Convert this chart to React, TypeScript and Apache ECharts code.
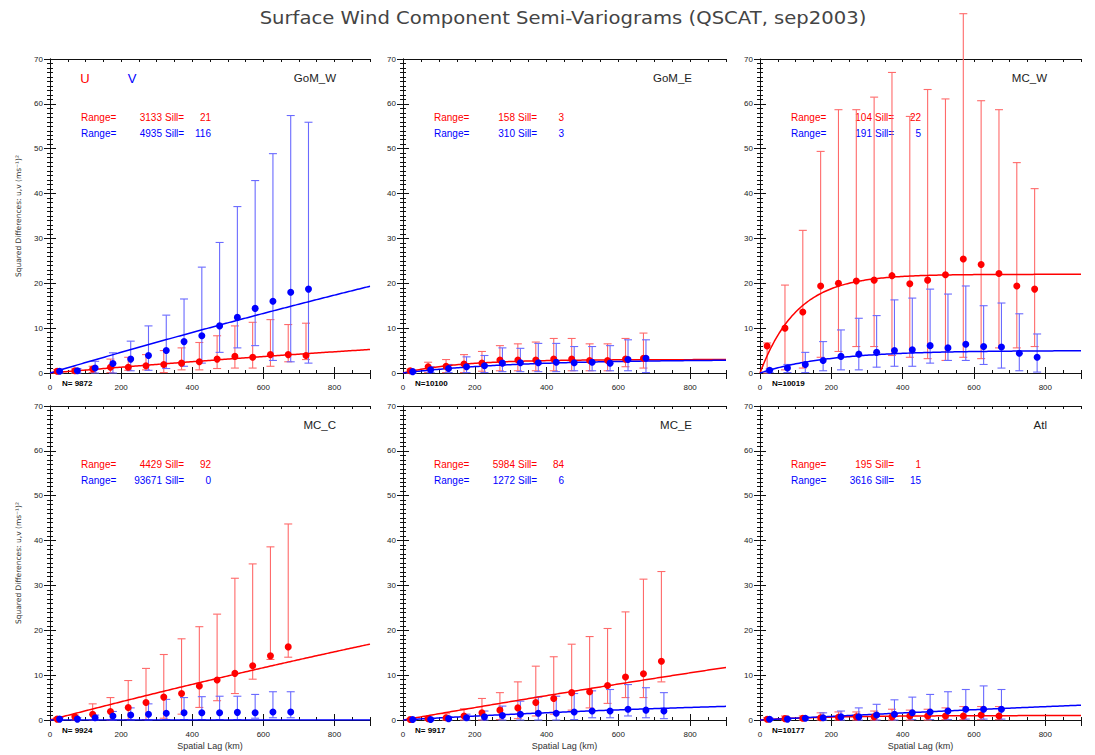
import { useEffect, useRef } from "react";
import * as echarts from "echarts";

// Lag bin centres (km); U and V are offset slightly so their bars do not overlap
const lagU = [20, 70, 120, 170, 220, 270, 320, 370, 420, 470, 520, 570, 620, 670, 720, 770];
const lagV = [27, 77, 127, 177, 227, 277, 327, 377, 427, 477, 527, 577, 627, 677, 727, 777];

const xTicks = [0, 200, 400, 600, 800];
const yTicks = [0, 10, 20, 30, 40, 50, 60, 70];

// GoM_W
const gomW_uMean = [0.4, 0.5, 0.9, 1.3, 1.3, 1.6, 1.9, 2.2, 2.5, 3.1, 3.7, 3.5, 4.1, 4.1, 3.9];
const gomW_uHigh = [0.8, 0.9, 1.5, 3.1, 3.5, 4.1, 5.0, 5.6, 6.8, 8.3, 10.5, 11.3, 11.9, 10.8, 11.1];
const gomW_uLow = [0, 0, 0.1, 0.1, 0.6, 0.7, 0.1, 0.7, 0.7, 1.0, 1.1, 1.1, 1.5, 2.5, 3.0];
const gomW_vMean = [0.4, 0.5, 1.1, 2.1, 3.1, 3.9, 5.0, 7.0, 8.3, 10.5, 12.4, 14.4, 16.0, 18.0, 18.7];
const gomW_vHigh = [0.8, 1.0, 2.6, 4.5, 7.1, 10.5, 12.9, 16.5, 23.6, 29.1, 37.1, 42.9, 48.9, 57.4, 55.9];
const gomW_vLow = [0, 0, 0, 0, 0.5, 0.6, 1.0, 1.5, 2.2, 4.6, 5.6, 6.1, 2.8, 2.5, 2.2];

// GoM_E
const gomE_uMean = [0.5, 1.4, 1.5, 2.0, 2.2, 2.9, 2.9, 2.9, 3.1, 3.1, 2.8, 2.8, 3.1, 3.3];
const gomE_uHigh = [0.9, 2.4, 3.0, 4.1, 4.8, 6.1, 6.5, 6.9, 7.7, 7.7, 6.5, 6.5, 7.7, 8.9];
const gomE_uLow = [0, 0.1, 0.1, 0.1, 0.4, 0.5, 0.5, 0.5, 0.5, 0.5, 0.5, 0.5, 1.4, 1.1];
const gomE_vMean = [0.3, 0.7, 1.0, 1.4, 1.6, 2.2, 2.3, 2.3, 2.4, 2.3, 2.4, 2.2, 3.0, 3.3];
const gomE_vHigh = [0.5, 1.4, 1.9, 3.6, 3.9, 5.6, 5.5, 6.6, 6.6, 5.9, 5.9, 6.1, 7.4, 7.4];
const gomE_vLow = [0, 0.1, 0.1, 0.1, 0.1, 0.3, 0.3, 0.3, 0.3, 0.5, 0.5, 0.5, 0.5, 0.1];

// MC_W
const mcW_uMean = [6.0, 10.0, 13.6, 19.4, 20.0, 20.5, 20.7, 21.7, 19.9, 20.7, 21.9, 25.4, 24.2, 22.2, 19.4, 18.7];
const mcW_uHigh = [6.7, 19.6, 31.8, 49.4, 58.7, 58.7, 61.5, 67.0, 57.2, 63.2, 61.1, 80.1, 60.7, 58.7, 46.9, 41.1];
const mcW_uLow = [0, 0.7, 1.1, 3.5, 4.8, 5.9, 5.9, 3.9, 3.5, 3.2, 2.8, 3.5, 3.2, 5.6, 5.6, 5.9];
const mcW_vMean = [0.6, 1.1, 1.9, 2.8, 3.7, 4.2, 4.6, 5.0, 5.2, 6.1, 5.6, 6.4, 5.9, 5.8, 4.4, 3.5];
const mcW_vHigh = [0.9, 1.9, 4.6, 7.0, 9.6, 12.2, 12.8, 16.3, 16.7, 18.7, 17.6, 19.4, 15.0, 15.6, 13.2, 8.7];
const mcW_vLow = [0.1, 0.1, 0.1, 0.5, 0.7, 0.7, 1.3, 1.5, 1.5, 2.2, 2.8, 2.8, 1.9, 1.1, 0.5, 0.2];

// MC_C
const mcC_uMean = [0.2, 0.7, 1.3, 1.9, 2.8, 3.9, 5.1, 5.9, 7.6, 8.9, 10.4, 12.1, 14.3, 16.3];
const mcC_uHigh = [0.5, 1.1, 3.6, 5.0, 8.8, 11.5, 14.6, 18.1, 20.8, 23.6, 31.6, 34.8, 38.6, 43.7];
const mcC_uLow = [0, 0, 0, 0, 0.1, 0.1, 0.4, 1.3, 2.8, 4.3, 5.9, 9.1, 13.5, 14.0];
const mcC_vMean = [0.2, 0.2, 0.5, 0.9, 1.1, 1.3, 1.5, 1.6, 1.6, 1.6, 1.7, 1.6, 1.8, 1.8];
const mcC_vHigh = [0.5, 0.5, 1.1, 1.9, 2.7, 3.6, 4.6, 5.0, 5.2, 5.3, 5.3, 5.7, 6.3, 6.3];
const mcC_vLow = [0, 0, 0, 0, 0, 0, 0.1, 0.1, 0.1, 0.1, 0.1, 0.4, 0.5, 0.5];

// MC_E
const mcE_uMean = [0.1, 0.3, 0.5, 0.9, 1.6, 2.2, 2.7, 3.9, 4.8, 6.1, 6.3, 7.7, 9.6, 10.3, 13.1];
const mcE_uHigh = [0.2, 0.5, 1.4, 2.5, 4.8, 6.1, 8.5, 12.0, 14.1, 16.9, 18.6, 20.4, 24.1, 31.4, 33.1];
const mcE_uLow = [0, 0, 0, 0, 0, 0.1, 0.3, 0.9, 1.3, 2.2, 2.7, 3.7, 5.0, 5.0, 8.5];
const mcE_vMean = [0.1, 0.1, 0.3, 0.5, 0.7, 1.0, 1.3, 1.5, 1.5, 1.8, 2.0, 2.0, 2.4, 2.2, 2.0];
const mcE_vHigh = [0.3, 0.3, 0.7, 1.3, 2.0, 3.1, 4.2, 5.1, 5.3, 5.9, 6.5, 6.8, 7.9, 7.2, 6.1];
const mcE_vLow = [0, 0, 0, 0, 0, 0, 0, 0, 0, 0.1, 0.5, 0.5, 0.9, 0.5, 0.3];

// Atl
const atl_uMean = [0.15, 0.3, 0.4, 0.5, 0.6, 0.7, 0.7, 0.7, 0.9, 0.9, 0.9, 0.9, 1.1, 0.9];
const atl_uHigh = [0.5, 0.9, 0.9, 1.6, 1.8, 1.8, 2.0, 2.4, 2.2, 2.4, 2.7, 3.0, 3.0, 3.0];
const atl_uLow = [0, 0, 0, 0, 0, 0, 0, 0, 0, 0, 0.1, 0.1, 0.1, 0.1];
const atl_vMean = [0.15, 0.2, 0.4, 0.5, 0.7, 0.7, 1.1, 1.3, 1.6, 1.8, 2.0, 2.4, 2.4, 2.4];
const atl_vHigh = [0.4, 0.5, 0.7, 1.6, 2.0, 2.7, 3.5, 4.5, 5.1, 5.7, 6.3, 6.8, 7.6, 6.8];
const atl_vLow = [0, 0, 0, 0, 0, 0, 0, 0, 0.1, 0.1, 0.1, 0.2, 0.2, 0.2];

// Region labels, sample counts and fitted exponential model parameters (range km, sill)
const regionNames = ["GoM_W", "GoM_E", "MC_W", "MC_C", "MC_E", "Atl"];
const sampleCounts = ["N= 9872", "N=10100", "N=10019", "N= 9924", "N= 9917", "N=10177"];
const rangeU = [3133, 158, 104, 4429, 5984, 195];
const sillU = [21, 3, 22, 92, 84, 1];
const rangeV = [4935, 310, 191, 93671, 1272, 3616];
const sillV = [116, 3, 5, 0, 6, 15];

const uMeans = [gomW_uMean, gomE_uMean, mcW_uMean, mcC_uMean, mcE_uMean, atl_uMean];
const uHighs = [gomW_uHigh, gomE_uHigh, mcW_uHigh, mcC_uHigh, mcE_uHigh, atl_uHigh];
const uLows = [gomW_uLow, gomE_uLow, mcW_uLow, mcC_uLow, mcE_uLow, atl_uLow];
const vMeans = [gomW_vMean, gomE_vMean, mcW_vMean, mcC_vMean, mcE_vMean, atl_vMean];
const vHighs = [gomW_vHigh, gomE_vHigh, mcW_vHigh, mcC_vHigh, mcE_vHigh, atl_vHigh];
const vLows = [gomW_vLow, gomE_vLow, mcW_vLow, mcC_vLow, mcE_vLow, atl_vLow];

const RED = "#ff0000";
const BLUE = "#0000ff";
const RED_BAR = "#ff6a6a";
const BLUE_BAR = "#6a6aff";

// Panel layout in pixels
const colLeft = [50, 403, 760];
const colWidth = [320, 323, 321];
const rowTop = [59, 406];
const plotHeight = 314;

const TICK_FONT = "Liberation Sans, Arial, sans-serif";
const X_MAX = 900;
const X_MINOR = 50;

function modelCurve(range: number, sill: number) {
  // exponential semi-variogram: sill * (1 - exp(-h / range))
  const pts: number[][] = [];
  for (let h = 0; h <= X_MAX; h += 5) pts.push([h, sill * (1 - Math.exp(-h / range))]);
  return pts;
}

function errorBarRender(color: string) {
  return (params: any, api: any) => {
    const x = api.value(0);
    const lo = api.coord([x, api.value(1)]);
    const hi = api.coord([x, api.value(2)]);
    const w = 4;
    const style = { stroke: color, lineWidth: 1.1 };
    return {
      type: "group",
      children: [
        { type: "line", shape: { x1: lo[0], y1: lo[1], x2: hi[0], y2: hi[1] }, style },
        { type: "line", shape: { x1: lo[0] - w, y1: lo[1], x2: lo[0] + w, y2: lo[1] }, style },
        { type: "line", shape: { x1: hi[0] - w, y1: hi[1], x2: hi[0] + w, y2: hi[1] }, style },
      ],
    };
  };
}

function buildOption() {
  const grid: any[] = [];
  const xAxis: any[] = [];
  const yAxis: any[] = [];
  const series: any[] = [];
  const graphic: any[] = [];

  const axisLine = { show: true, lineStyle: { color: "#111", width: 1 } };

  for (let i = 0; i < 6; i++) {
    const row = Math.floor(i / 3);
    const col = i % 3;
    const left = colLeft[col];
    const width = colWidth[col];
    const top = rowTop[row];
    grid.push({ left, top, width, height: plotHeight, containLabel: false });

    // Four x axes per panel: labelled major (bottom), major (top), and two 50 km minor-tick axes
    const xMajor = {
      type: "value",
      gridIndex: i,
      min: xTicks[0],
      max: X_MAX,
      interval: xTicks[1] - xTicks[0],
      axisLine,
      axisTick: { show: true, inside: true, length: 6, lineStyle: { color: "#111" } },
      minorTick: { show: false },
      splitLine: { show: false },
    };
    const xMinor = {
      ...xMajor,
      interval: X_MINOR,
      axisTick: { show: true, inside: true, length: 3, lineStyle: { color: "#111" } },
      axisLabel: { show: false },
    };
    xAxis.push({
      ...xMajor,
      position: "bottom",
      axisLabel: {
        show: true,
        fontSize: 8,
        color: "#222",
        fontFamily: TICK_FONT,
        margin: 10,
        showMaxLabel: false,
        formatter: (v: number) => (xTicks.includes(v) ? String(v) : ""),
      },
    });
    xAxis.push({ ...xMajor, position: "top", axisLabel: { show: false } });
    xAxis.push({ ...xMinor, position: "bottom" });
    xAxis.push({ ...xMinor, position: "top" });

    const yCommon = {
      type: "value",
      gridIndex: i,
      min: yTicks[0],
      max: yTicks[yTicks.length - 1],
      interval: yTicks[1] - yTicks[0],
      axisLine,
      axisTick: { show: true, inside: true, length: 6, lineStyle: { color: "#111" } },
      minorTick: { show: true, splitNumber: 10, length: 3, lineStyle: { color: "#111" } },
      splitLine: { show: false },
    };
    yAxis.push({
      ...yCommon,
      position: "left",
      axisLabel: { show: true, fontSize: 8, color: "#222", fontFamily: TICK_FONT, margin: 7 },
    });
    yAxis.push({ ...yCommon, position: "right", axisLabel: { show: false } });

    const xi = 4 * i;
    const yi = 2 * i;
    const uBars = uMeans[i].map((_, k) => [lagU[k], uLows[i][k], uHighs[i][k]]);
    const vBars = vMeans[i].map((_, k) => [lagV[k], vLows[i][k], vHighs[i][k]]);
    const uPts = uMeans[i].map((m, k) => [lagU[k], m]);
    const vPts = vMeans[i].map((m, k) => [lagV[k], m]);

    series.push({
      type: "custom",
      xAxisIndex: xi,
      yAxisIndex: yi,
      clip: false,
      renderItem: errorBarRender(RED_BAR),
      encode: { x: 0, y: [1, 2] },
      data: uBars,
      z: 2,
    });
    series.push({
      type: "custom",
      xAxisIndex: xi,
      yAxisIndex: yi,
      clip: false,
      renderItem: errorBarRender(BLUE_BAR),
      encode: { x: 0, y: [1, 2] },
      data: vBars,
      z: 2,
    });
    series.push({
      type: "line",
      xAxisIndex: xi,
      yAxisIndex: yi,
      showSymbol: false,
      data: modelCurve(rangeU[i], sillU[i]),
      lineStyle: { color: RED, width: 1.5 },
      z: 3,
    });
    series.push({
      type: "line",
      xAxisIndex: xi,
      yAxisIndex: yi,
      showSymbol: false,
      data: modelCurve(rangeV[i], sillV[i]),
      lineStyle: { color: BLUE, width: 1.5 },
      z: 3,
    });
    series.push({
      type: "scatter",
      xAxisIndex: xi,
      yAxisIndex: yi,
      symbolSize: 7,
      itemStyle: { color: RED, opacity: 1 },
      data: uPts,
      z: 4,
    });
    series.push({
      type: "scatter",
      xAxisIndex: xi,
      yAxisIndex: yi,
      symbolSize: 7,
      itemStyle: { color: BLUE, opacity: 1 },
      data: vPts,
      z: 4,
    });

    // Region name
    graphic.push({
      type: "text",
      x: left + width - 34,
      y: top + 19,
      style: {
        text: regionNames[i],
        fill: "#222",
        font: "11.5px Liberation Sans, Arial, sans-serif",
        align: "right",
        verticalAlign: "middle",
      },
    });

    // Fitted parameters
    const tx = left + 31;
    const rows = [
      { color: RED, range: rangeU[i], sill: sillU[i], y: top + 58 },
      { color: BLUE, range: rangeV[i], sill: sillV[i], y: top + 74 },
    ];
    rows.forEach((r) => {
      const font = "10px Liberation Sans, Arial, sans-serif";
      graphic.push({
        type: "text",
        x: tx,
        y: r.y,
        style: { text: "Range=", fill: r.color, font, align: "left", verticalAlign: "middle" },
      });
      graphic.push({
        type: "text",
        x: tx + 81,
        y: r.y,
        style: { text: String(r.range), fill: r.color, font, align: "right", verticalAlign: "middle" },
      });
      graphic.push({
        type: "text",
        x: tx + 84,
        y: r.y,
        style: { text: "Sill=", fill: r.color, font, align: "left", verticalAlign: "middle" },
      });
      graphic.push({
        type: "text",
        x: tx + 130,
        y: r.y,
        style: { text: String(r.sill), fill: r.color, font, align: "right", verticalAlign: "middle" },
      });
    });

    // Sample count
    graphic.push({
      type: "text",
      x: left + 12,
      y: top + plotHeight + 10,
      style: {
        text: sampleCounts[i],
        fill: "#000",
        font: "bold 8px Liberation Sans, Arial, sans-serif",
        align: "left",
        verticalAlign: "middle",
      },
    });

    if (row === 1) {
      graphic.push({
        type: "text",
        x: left + width / 2,
        y: top + plotHeight + 26,
        style: {
          text: "Spatial Lag (km)",
          fill: "#333",
          font: "9px Liberation Sans, Arial, sans-serif",
          align: "center",
          verticalAlign: "middle",
        },
      });
    }
    if (col === 0) {
      graphic.push({
        type: "text",
        x: 18,
        y: top + plotHeight / 2,
        rotation: Math.PI / 2,
        style: {
          text: "Squared Differences: u,v (ms⁻¹)²",
          fill: "#333",
          font: "7.5px DejaVu Sans, sans-serif",
          align: "center",
          verticalAlign: "middle",
        },
      });
    }
  }

  // Component legend in the first panel
  graphic.push({
    type: "text",
    x: colLeft[0] + 35,
    y: rowTop[0] + 19,
    style: { text: "U", fill: RED, font: "13px Liberation Sans, Arial, sans-serif", align: "center", verticalAlign: "middle" },
  });
  graphic.push({
    type: "text",
    x: colLeft[0] + 82,
    y: rowTop[0] + 19,
    style: { text: "V", fill: BLUE, font: "13px Liberation Sans, Arial, sans-serif", align: "center", verticalAlign: "middle" },
  });

  // Title
  graphic.push({
    type: "text",
    x: 563,
    y: 18,
    scaleX: 1.09,
    style: {
      text: "Surface Wind Component Semi-Variograms (QSCAT, sep2003)",
      fill: "#444",
      font: "18px DejaVu Sans, sans-serif",
      align: "center",
      verticalAlign: "middle",
    },
  });

  return {
    animation: false,
    backgroundColor: "#ffffff",
    grid,
    xAxis,
    yAxis,
    series,
    graphic,
  };
}

export default function App() {
  const ref = useRef<HTMLDivElement>(null);
  useEffect(() => {
    if (!ref.current) return;
    const chart = echarts.init(ref.current, undefined, { renderer: "svg" });
    chart.setOption(buildOption() as any);
    return () => chart.dispose();
  }, []);
  return (
    <div
      ref={ref}
      style={{ position: "fixed", left: 0, top: 0, width: 1095, height: 755, background: "#fff" }}
    />
  );
}
